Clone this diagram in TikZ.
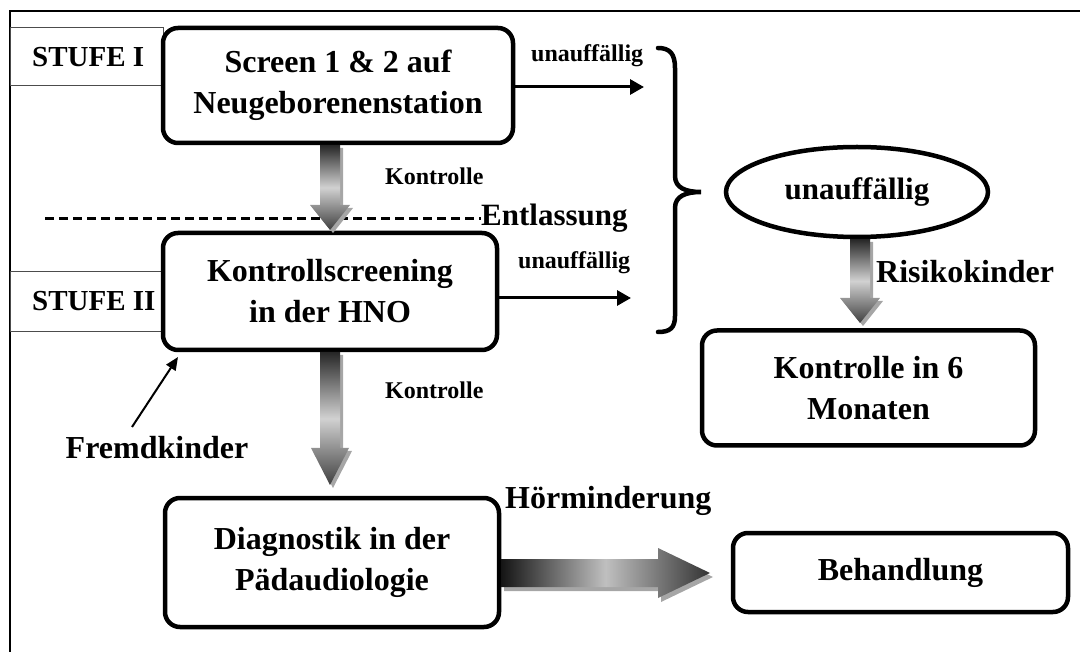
\documentclass[tikz,border=0pt]{standalone}
\usepackage{fontspec}
\setmainfont{Liberation Serif}
\usetikzlibrary{calc,arrows.meta,shapes.geometric}
\newcommand\vfat[6]{% cx, y1, y2, half shaft, half head, head length
  \fill[gray!70] ($(#1,#2)+(3,3)$) -- ++(#4,0) -- ($(#1+#4+3,#3-#6+3)$) -- ($(#1+#5+3,#3-#6+3)$) -- ($(#1+3,#3+3)$) -- ($(#1-#5+3,#3-#6+3)$) -- ($(#1-#4+3,#3-#6+3)$) -- cycle;
  \shade[top color=black!85, bottom color=black!75, middle color=black!18]
    (#1-#4,#2) -- (#1+#4,#2) -- (#1+#4,#3-#6) -- (#1+#5,#3-#6) -- (#1,#3) -- (#1-#5,#3-#6) -- (#1-#4,#3-#6) -- cycle;}
\newcommand\hfat[6]{% cy, x1, x2, half shaft, half head, head length
  \fill[gray!70] (#2+3,#1-#4+4) -- (#3-#6+3,#1-#4+4) -- (#3-#6+3,#1-#5+4) -- (#3+3,#1+4) -- (#3-#6+3,#1+#5+4) -- (#3-#6+3,#1+#4+4) -- (#2+3,#1+#4+4) -- cycle;
  \shade[left color=black!92, right color=black!80, middle color=black!25]
    (#2,#1-#4) -- (#3-#6,#1-#4) -- (#3-#6,#1-#5) -- (#3,#1) -- (#3-#6,#1+#5) -- (#3-#6,#1+#4) -- (#2,#1+#4) -- cycle;}
\begin{document}
\begin{tikzpicture}[x=1pt,y=-1pt,
  box/.style={draw, fill=white, line width=4.5pt, rounded corners=15pt, align=center,
    font=\fontsize{32}{41}\selectfont\bfseries, inner sep=0pt},
  stufebox/.style={draw=black!70, line width=1pt},
  lbl/.style={font=\fontsize{32}{38}\selectfont\bfseries, inner sep=0pt},
  stufelbl/.style={font=\fontsize{29}{34}\selectfont\bfseries, inner sep=0pt},
  smalllbl/.style={font=\fontsize{24}{28}\selectfont\bfseries, inner sep=0pt},
  thinarrow/.style={line width=3pt, -{Triangle[length=14pt,width=15pt]}},
]
\useasboundingbox (0,0) rectangle (1080,652);
% frame
\draw[line width=2.5pt] (10,652) -- (10,11) -- (1080,11);
% Stufe boxes
\draw[stufebox] (10,28) rectangle (163,86);
\node[stufelbl, anchor=base west] (s1) at (32,67) {STUFE I};
\draw[stufebox] (10,272) rectangle (163,332);
\node[stufelbl, anchor=base west] (s2) at (32,311) {STUFE II};
% main boxes
\node[box, minimum width=350pt, minimum height=115pt] (b1) at (338,85.5) {Screen 1 \& 2 auf\\Neugeborenenstation};
\node[box, minimum width=334pt, minimum height=117pt] (b2) at (330,291.5) {Kontrollscreening\\in der HNO};
\node[box, minimum width=334pt, minimum height=129pt] (b3) at (332,562.5) {Diagnostik in der\\Pädaudiologie};
\node[box, minimum width=335pt, minimum height=79pt] (b4) at (900.5,572.5) {Behandlung};
\node[box, minimum width=333pt, minimum height=115pt] (b5) at (868.5,388) {Kontrolle in 6\\Monaten};
\node[draw, ellipse, line width=4.5pt, minimum width=262pt, minimum height=90pt, inner sep=0pt,
  font=\fontsize{31}{36}\selectfont\bfseries] (el) at (857,192) {unauffällig};
% dashed Entlassung line
\coordinate (dl) at (45,219);
\node[font=\fontsize{31}{36}\selectfont\bfseries, inner sep=0pt, anchor=base west] (ent) at (481,226) {Entlassung};
\draw[line width=3pt, dash pattern=on 9pt off 5pt] (dl) -- (ent.west |- dl);
% fat gray arrows
\vfat{330}{145}{230}{10}{20}{25}
\vfat{330}{352}{485}{10}{19}{37}
\vfat{860}{239}{323}{10}{20}{25}
\hfat{573}{501}{710}{14}{25}{52}
% labels
\node[smalllbl, anchor=base west] (k1) at (385,185) {Kontrolle};
\node[smalllbl, anchor=base west] (k2) at (385,399) {Kontrolle};
\node[lbl, anchor=base west] (risk) at (876,283) {Risikokinder};
\node[lbl, anchor=base west] (hoer) at (505,508) {Hörminderung};
\node[lbl, anchor=base] (fremd) at (157,458) {Fremdkinder};
\node[smalllbl, anchor=base west] (u1) at (531,62) {unauffällig};
\node[smalllbl, anchor=base west] (u2) at (518,269) {unauffällig};
% thin arrows
\coordinate (e1) at (644,87);
\coordinate (e2) at (631,298);
\draw[thinarrow] (b1.east |- e1) -- (e1);
\draw[thinarrow] (b2.east |- e2) -- (e2);
\coordinate (ft) at (132,427);
\coordinate (fh) at (178,357);
\draw[line width=2pt, -{Triangle[length=13pt,width=11pt]}] (ft) -- (fh);
% brace
\draw[line width=4.5pt, line cap=round]
  (658,48) .. controls (670,48) and (675,54) .. (675,68) -- (675,176)
  .. controls (675,188) and (686,192) .. (701,192)
  .. controls (686,192) and (675,196) .. (675,208) -- (675,316)
  .. controls (675,328) and (670,332) .. (658,332);
\end{tikzpicture}
\end{document}
